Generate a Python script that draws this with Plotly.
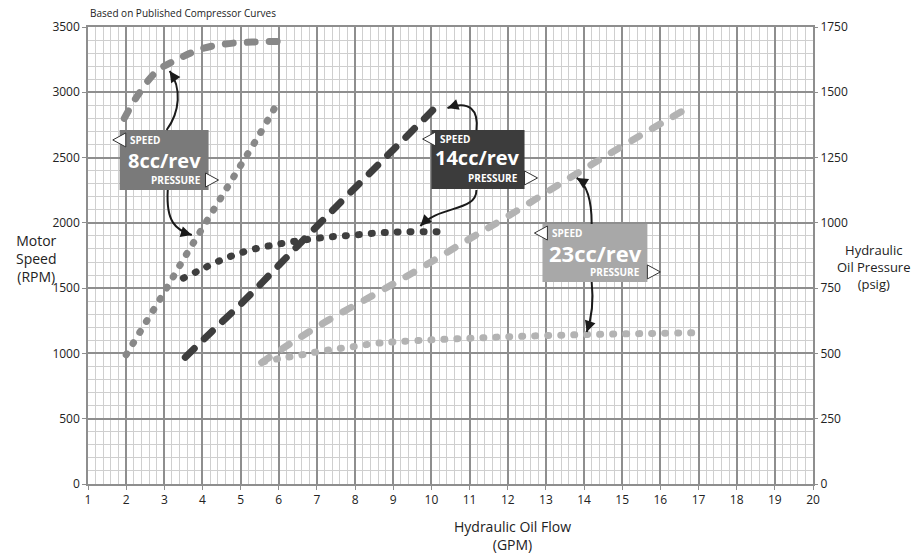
import plotly.graph_objects as go

# ---- data ----
# flow in GPM, speed in RPM (left axis), pressure in psig (right axis)
flow_8_speed = [1.95, 2.3, 2.8, 3.4, 4.0, 4.6, 5.3, 6.0]
rpm_8 = [2800, 2975, 3160, 3260, 3335, 3370, 3385, 3390]
flow_8_press = [2.0, 2.5, 3.0, 3.5, 4.0, 4.5, 5.0, 5.5, 5.95]
psi_8 = [495, 615, 735, 860, 980, 1100, 1220, 1340, 1455]

flow_14_speed = [3.55, 4.2, 5.15, 6.0, 6.9, 7.85, 9.0, 10.25]
rpm_14 = [970, 1155, 1420, 1675, 1945, 2225, 2560, 2925]
flow_14_press = [3.5, 3.9, 4.5, 5.15, 5.85, 6.55, 7.25, 7.95, 8.65, 9.35, 10.4]
psi_14 = [788, 817, 858, 892, 915, 932, 945, 953, 962, 966, 966]

flow_23_speed = [5.55, 6.3, 7.3, 8.5, 9.7, 10.9, 12.0, 13.6, 14.9, 16.6]
rpm_23 = [930, 1075, 1255, 1450, 1650, 1860, 2050, 2340, 2570, 2860]
flow_23_press = [5.6, 6.0, 6.5, 7.0, 7.5, 8.0, 8.5, 9.0, 10.0, 11.0, 12.0, 14.0, 16.9]
psi_23 = [468, 480, 492, 506, 517, 527, 538, 544, 552, 558, 564, 572, 579]

x_ticks = list(range(1, 21))
rpm_ticks = list(range(0, 3501, 500))
psi_ticks = list(range(0, 1751, 250))

c8, c14, c23 = "#888888", "#3e3e3e", "#b3b3b3"
box8, box14, box23 = "#7a7a7a", "#3c3c3c", "#a8a8a8"
FONT = "Open Sans"

fig = go.Figure()

def speed(x, y, color, dash):
    fig.add_trace(go.Scatter(x=x, y=y, mode="lines", line_shape="spline",
                             line=dict(color=color, width=7, dash=dash),
                             hoverinfo="skip", yaxis="y"))

def press(x, y, color):
    fig.add_trace(go.Scatter(x=x, y=y, mode="lines", line_shape="spline",
                             line=dict(color=color, width=7, dash="1px,12px"),
                             hoverinfo="skip", yaxis="y2"))

press(flow_8_press, psi_8, c8)
press(flow_14_press, psi_14, c14)
press(flow_23_press, psi_23, c23)
speed(flow_8_speed, rpm_8, c8, "8px,14px")
speed(flow_14_speed, rpm_14, c14, "12px,14px")
speed(flow_23_speed, rpm_23, c23, "9px,15px")

# ---- label boxes ----
boxes = [
    dict(x0=1.83, x1=4.16, y0=2252, y1=2711, fill=box8, name="8cc/rev",
         ltri=(1.99, 2635), rtri=(4.08, 2328), sp=(2.06, 2635), big=(3.0, 2481),
         pr=(4.01, 2328), size=20),
    dict(x0=10.0, x1=12.44, y0=2259, y1=2711, fill=box14, name="14cc/rev",
         ltri=(10.11, 2642), rtri=(12.44, 2344), sp=(10.16, 2642), big=(11.21, 2497),
         pr=(12.32, 2344), size=20),
    dict(x0=12.91, x1=15.66, y0=1547, y1=1991, fill=box23, name="23cc/rev",
         ltri=(13.04, 1922), rtri=(15.66, 1624), sp=(13.12, 1922), big=(14.30, 1769),
         pr=(15.51, 1624), size=22),
]

shapes = []
annos = []
for b in boxes:
    shapes.append(dict(type="rect", xref="x", yref="y", x0=b["x0"], x1=b["x1"],
                       y0=b["y0"], y1=b["y1"], fillcolor=b["fill"], line_width=0,
                       layer="above"))
    shapes.append(dict(type="path", xref="x", yref="y", xsizemode="pixel", ysizemode="pixel",
                       xanchor=b["ltri"][0], yanchor=b["ltri"][1],
                       path="M 0,-7 L -13,0 L 0,7 Z", fillcolor="white",
                       line=dict(color="#333333", width=1), layer="above"))
    shapes.append(dict(type="path", xref="x", yref="y", xsizemode="pixel", ysizemode="pixel",
                       xanchor=b["rtri"][0], yanchor=b["rtri"][1],
                       path="M 0,-7 L 13,0 L 0,7 Z", fillcolor="white",
                       line=dict(color="#333333", width=1), layer="above"))
    annos.append(dict(x=b["sp"][0], y=b["sp"][1], xref="x", yref="y", text="SPEED",
                      showarrow=False, xanchor="left", yanchor="middle",
                      font=dict(family=FONT, size=10, color="white", weight="bold")))
    annos.append(dict(x=b["big"][0], y=b["big"][1], xref="x", yref="y", text=b["name"],
                      showarrow=False, xanchor="center", yanchor="middle",
                      font=dict(family=FONT, size=b["size"], color="white", weight="bold")))
    annos.append(dict(x=b["pr"][0], y=b["pr"][1], xref="x", yref="y", text="PRESSURE",
                      showarrow=False, xanchor="right", yanchor="middle",
                      font=dict(family=FONT, size=10, color="white", weight="bold")))

# ---- curved call-out arrows: start, ctrl1, ctrl2, tip, tail offset (px) ----
arrows = [
    ((3.06, 2711), (3.41, 2849), (3.46, 3033), (3.14, 3163), (6, 9)),
    ((3.09, 2252), (3.04, 2007), (3.30, 1945), (3.72, 1907), (-10, -3)),
    ((11.18, 2711), (11.24, 2864), (11.0, 2941), (10.42, 2880), (9, -3)),
    ((11.18, 2252), (11.18, 2083), (10.21, 2137), (9.71, 1976), (7, -7)),
    ((14.20, 1991), (14.20, 2175), (14.09, 2290), (13.81, 2344), (8, 5)),
    ((14.20, 1547), (14.25, 1409), (14.20, 1271), (14.07, 1164), (3, -9)),
]
for s, c1, c2, e, t in arrows:
    shapes.append(dict(type="path", xref="x", yref="y", layer="above",
                       path="M %s,%s C %s,%s %s,%s %s,%s" % (s + c1 + c2 + e),
                       line=dict(color="#1a1a1a", width=2)))
    annos.append(dict(x=e[0], y=e[1], xref="x", yref="y", text="", showarrow=True,
                      ax=t[0], ay=t[1], arrowhead=2, arrowsize=1.1, arrowwidth=2,
                      arrowcolor="#1a1a1a"))

# ---- titles ----
annos += [
    dict(x=0, y=1.031, xref="paper", yref="paper", text="Based on Published Compressor Curves",
         showarrow=False, xanchor="left", yanchor="middle",
         font=dict(family=FONT, size=10, color="#222")),
    dict(x=-0.071, y=0.494, xref="paper", yref="paper", text="Motor<br>Speed<br>(RPM)",
         showarrow=False, xanchor="center", yanchor="middle",
         font=dict(family=FONT, size=14, color="#222")),
    dict(x=1.083, y=0.475, xref="paper", yref="paper",
         text="Hydraulic<br>Oil Pressure<br>(psig)",
         showarrow=False, xanchor="center", yanchor="middle",
         font=dict(family=FONT, size=13, color="#222")),
    dict(x=0.585, y=-0.113, xref="paper", yref="paper", text="Hydraulic Oil Flow<br>(GPM)",
         showarrow=False, xanchor="center", yanchor="middle",
         font=dict(family=FONT, size=14, color="#222")),
]

grid_major = "#8e8e8e"
grid_minor = "#cfcfcf"

fig.update_layout(
    width=915, height=557,
    margin=dict(l=88, r=102, t=27, b=73),
    paper_bgcolor="white", plot_bgcolor="white",
    showlegend=False,
    font=dict(family=FONT, size=12, color="#222"),
    shapes=shapes, annotations=annos,
    xaxis=dict(range=[1, 20], tickvals=x_ticks, showgrid=True, gridcolor=grid_major,
               gridwidth=1.5, ticks="outside", ticklen=4, tickcolor=grid_major,
               showline=True, linecolor=grid_major, linewidth=1.5, mirror=True,
               zeroline=False,
               minor=dict(dtick=0.2, showgrid=True, gridcolor=grid_minor, gridwidth=1)),
    yaxis=dict(range=[0, 3500], tickvals=rpm_ticks, showgrid=True, gridcolor=grid_major,
               gridwidth=1.5, ticks="outside", ticklen=4, tickcolor=grid_major,
               showline=True, linecolor=grid_major, linewidth=1.5, mirror=True,
               zeroline=False,
               minor=dict(dtick=100, showgrid=True, gridcolor=grid_minor, gridwidth=1)),
    yaxis2=dict(range=[0, 1750], tickvals=psi_ticks, overlaying="y", side="right",
                showgrid=False, ticks="outside", ticklen=4, tickcolor=grid_major,
                zeroline=False),
)

# round line caps for the dotted / dashed curves, and no page margin
post = """
var st = document.createElement('style');
st.innerHTML = 'body{margin:0;} .scatterlayer .js-line{stroke-linecap:round;}';
document.head.appendChild(st);
"""
fig.write_html("out.html", post_script=post, config={"displayModeBar": False})
